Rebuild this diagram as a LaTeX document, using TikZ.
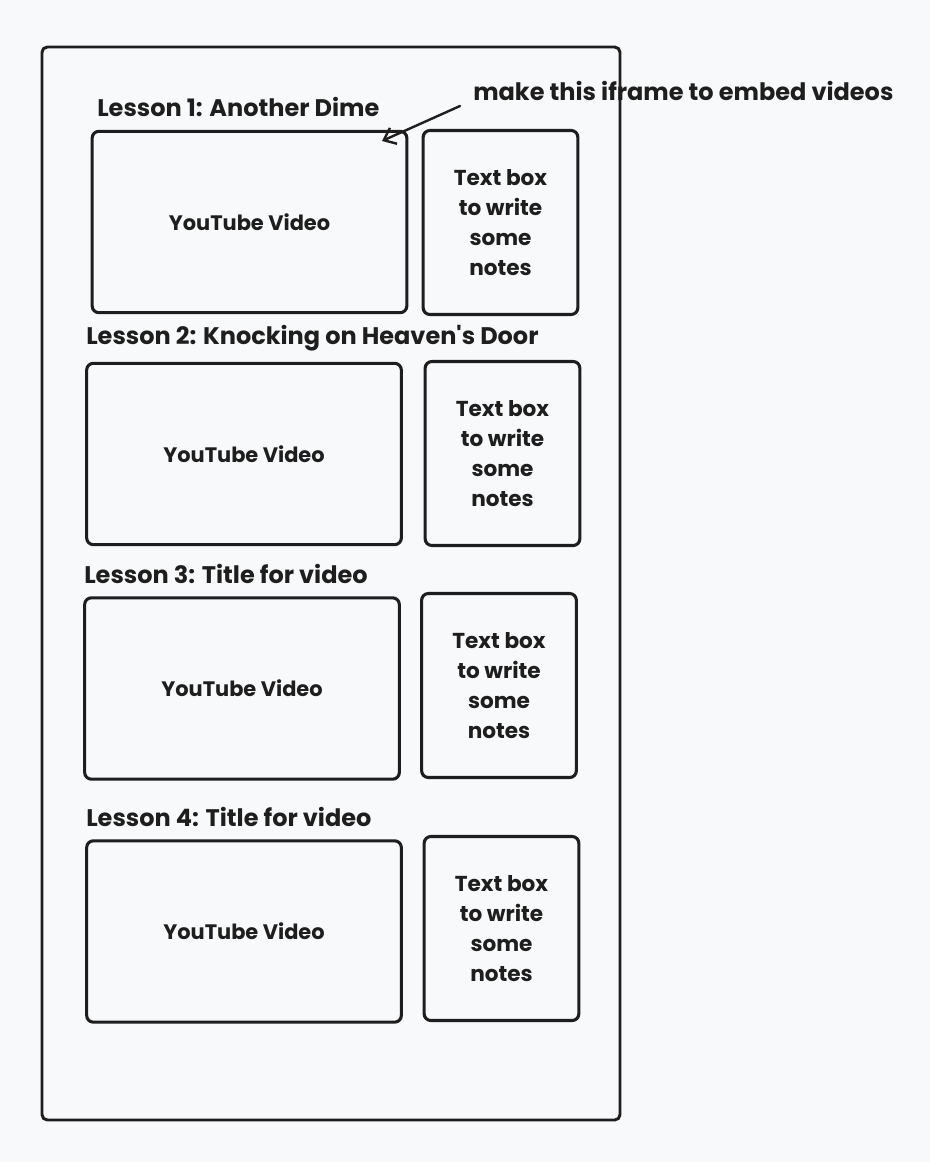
\documentclass[tikz,border=0pt]{standalone}
\usepackage{fontspec}
\setmainfont{Poppins}
\usetikzlibrary{arrows.meta,positioning}
\definecolor{tinta}{HTML}{1E1E1E}
\definecolor{papel}{HTML}{F8F9FA}
\begin{document}
\begin{tikzpicture}[
    x=0.75pt,y=-0.75pt,line cap=round,line join=round,
    vid/.style={draw=tinta,line width=2.3pt,rounded corners=5pt,
                minimum width=236pt,minimum height=136pt,
                font=\bfseries\fontsize{15.7}{18}\selectfont,text=tinta},
    notes/.style={draw=tinta,line width=2.3pt,rounded corners=5pt,
                  minimum width=116pt,minimum height=138pt,align=center,
                  font=\bfseries\fontsize{16.2}{22.5}\selectfont,text=tinta},
    lesson/.style={anchor=west,inner sep=0pt,text=tinta,
                   font=\bfseries\fontsize{18}{21}\selectfont},
    arr/.style={-{Straight Barb[length=8pt,width=13pt]},tinta,line width=1.8pt}]
  % --- fondo y marco
  \fill[papel] (0,0) rectangle (930,1162);
  \useasboundingbox (0,0) rectangle (930,1162);
  \draw[tinta,line width=2.2pt,rounded corners=4pt] (42,47) rectangle (620,1120);
  % --- lección 1
  \node[lesson] (t1) at (97,107) {Lesson 1: Another Dime};
  \node[vid] (v1) at (249.5,222) {YouTube Video};
  \node[notes] (n1) at (500.5,222.5) {Text box\\to write\\some\\notes};
  % --- lección 2
  \node[lesson] (t2) at (86,338) {Lesson 2: Knocking on Heaven\textquotesingle s Door};
  \node[vid] (v2) at (244,454) {YouTube Video};
  \node[notes] (n2) at (502.5,453.5) {Text box\\to write\\some\\notes};
  % --- lección 3
  \node[lesson] (t3) at (84,574) {Lesson 3: Title for video};
  \node[vid] (v3) at (242,688.5) {YouTube Video};
  \node[notes] (n3) at (499,685.5) {Text box\\to write\\some\\notes};
  % --- lección 4
  \node[lesson] (t4) at (86,817) {Lesson 4: Title for video};
  \node[vid] (v4) at (244,931.5) {YouTube Video};
  \node[notes] (n4) at (501.5,928.5) {Text box\\to write\\some\\notes};
  % --- nota con flecha
  \node[lesson] (nota) at (473,91) {make this iframe to embed videos};
  \coordinate (cola) at (460,106);
  \coordinate (punta) at (382,141);
  \draw[arr] (cola) -- (punta);
\end{tikzpicture}
\end{document}
